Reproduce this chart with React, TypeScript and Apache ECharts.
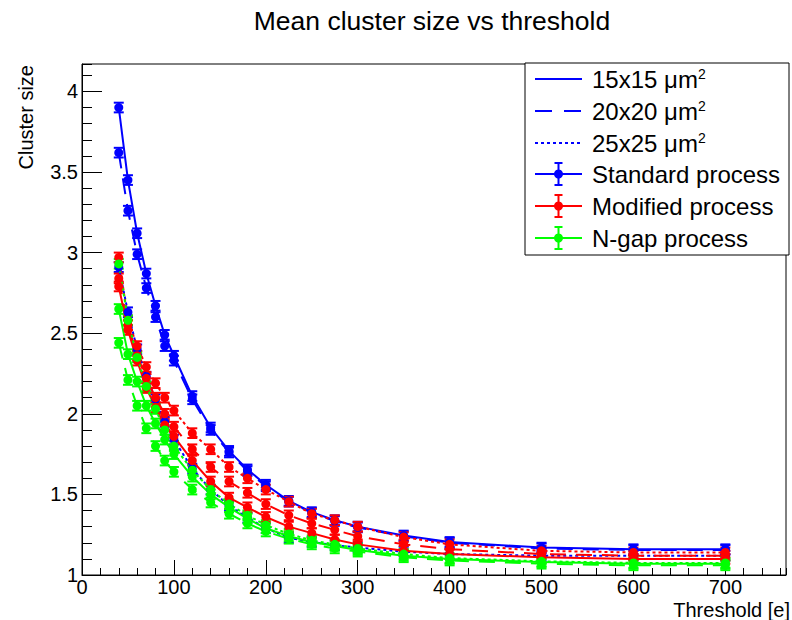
import React, { useEffect, useRef } from "react";
import * as echarts from "echarts";

// Threshold values [e] at which the cluster size was measured
const THRESHOLDS = [40, 50, 60, 70, 80, 90, 100, 120, 140, 160, 180, 200, 225, 250, 275, 300, 350, 400, 500, 600, 700];

// Standard process
const STANDARD_15 = [3.9, 3.45, 3.12, 2.87, 2.67, 2.49, 2.36, 2.11, 1.915, 1.77, 1.655, 1.56, 1.46, 1.39, 1.34, 1.3, 1.245, 1.205, 1.17, 1.16, 1.16];
const STANDARD_20 = [3.62, 3.26, 2.99, 2.78, 2.6, 2.42, 2.33, 2.09, 1.9, 1.76, 1.645, 1.55, 1.455, 1.385, 1.335, 1.295, 1.24, 1.2, 1.165, 1.155, 1.155];
const STANDARD_25 = [2.91, 2.63, 2.4, 2.23, 2.09, 1.95, 1.84, 1.66, 1.53, 1.43, 1.355, 1.29, 1.23, 1.205, 1.185, 1.17, 1.145, 1.13, 1.12, 1.12, 1.12];

// Modified process
const MODIFIED_15 = [2.79, 2.52, 2.33, 2.16, 2.04, 1.93, 1.86, 1.71, 1.58, 1.48, 1.42, 1.36, 1.3, 1.26, 1.22, 1.19, 1.15, 1.13, 1.11, 1.1, 1.1];
const MODIFIED_20 = [2.84, 2.55, 2.36, 2.22, 2.1, 2.0, 1.92, 1.78, 1.67, 1.58, 1.51, 1.44, 1.37, 1.32, 1.28, 1.24, 1.19, 1.16, 1.13, 1.12, 1.12];
const MODIFIED_25 = [2.97, 2.58, 2.42, 2.29, 2.19, 2.1, 2.02, 1.88, 1.78, 1.67, 1.6, 1.53, 1.455, 1.38, 1.34, 1.3, 1.235, 1.19, 1.15, 1.14, 1.14];

// N-gap process
const NGAP_15 = [2.65, 2.37, 2.2, 2.05, 1.94, 1.84, 1.75, 1.61, 1.5, 1.42, 1.35, 1.29, 1.24, 1.205, 1.18, 1.155, 1.12, 1.1, 1.08, 1.07, 1.07];
const NGAP_20 = [2.44, 2.21, 2.05, 1.91, 1.8, 1.71, 1.64, 1.53, 1.45, 1.38, 1.32, 1.27, 1.225, 1.19, 1.165, 1.145, 1.11, 1.09, 1.07, 1.06, 1.06];
const NGAP_25 = [2.93, 2.58, 2.35, 2.17, 2.03, 1.9, 1.8, 1.65, 1.53, 1.44, 1.37, 1.31, 1.255, 1.215, 1.19, 1.165, 1.13, 1.105, 1.085, 1.075, 1.075];

// Statistical uncertainty on each mean
const MEAN_ERROR = 0.03;

const X_TICKS_MAJOR = 100;
const X_TICKS_MINOR = 20;
const Y_TICKS_MAJOR = 0.5;
const Y_TICKS_MINOR = 0.1;

const BLUE = "#0000ff";
const RED = "#ff0000";
const GREEN = "#00ff00";
const FONT = "'Liberation Sans', Arial, Helvetica, sans-serif";

const DASHED = [16, 10];
const DOTTED = [3, 3];

type Curve = { name: string; values: number[]; color: string; dash: "solid" | number[] };

const CURVES: Curve[] = [
  { name: "Standard 15x15", values: STANDARD_15, color: BLUE, dash: "solid" },
  { name: "Standard 20x20", values: STANDARD_20, color: BLUE, dash: DASHED },
  { name: "Standard 25x25", values: STANDARD_25, color: BLUE, dash: DOTTED },
  { name: "Modified 15x15", values: MODIFIED_15, color: RED, dash: "solid" },
  { name: "Modified 20x20", values: MODIFIED_20, color: RED, dash: DASHED },
  { name: "Modified 25x25", values: MODIFIED_25, color: RED, dash: DOTTED },
  { name: "N-gap 15x15", values: NGAP_15, color: GREEN, dash: "solid" },
  { name: "N-gap 20x20", values: NGAP_20, color: GREEN, dash: DASHED },
  { name: "N-gap 25x25", values: NGAP_25, color: GREEN, dash: DOTTED },
];

function lineSeries(c: Curve) {
  return {
    name: c.name,
    type: "line",
    xAxisIndex: 0,
    yAxisIndex: 0,
    data: THRESHOLDS.map((x, i) => [x, c.values[i]]),
    symbol: "circle",
    symbolSize: 9,
    showAllSymbol: true,
    itemStyle: { color: c.color },
    lineStyle: { color: c.color, width: 2, type: c.dash },
    z: 3,
  };
}

function errorSeries(c: Curve) {
  return {
    name: c.name + " errors",
    type: "custom",
    xAxisIndex: 0,
    yAxisIndex: 0,
    data: THRESHOLDS.map((x, i) => [x, c.values[i] - MEAN_ERROR, c.values[i] + MEAN_ERROR]),
    encode: { x: 0, y: [1, 2] },
    renderItem: (_params: any, api: any) => {
      const x = api.value(0);
      const lo = api.coord([x, api.value(1)]);
      const hi = api.coord([x, api.value(2)]);
      const w = 5;
      const style = { stroke: c.color, lineWidth: 2 };
      return {
        type: "group",
        children: [
          { type: "line", shape: { x1: lo[0], y1: lo[1], x2: hi[0], y2: hi[1] }, style },
          { type: "line", shape: { x1: lo[0] - w, y1: lo[1], x2: lo[0] + w, y2: lo[1] }, style },
          { type: "line", shape: { x1: hi[0] - w, y1: hi[1], x2: hi[0] + w, y2: hi[1] }, style },
        ],
      };
    },
    z: 2,
  };
}

// Legend drawn as a framed box in the upper right corner
function legendGraphics() {
  const left = 525;
  const top = 63;
  const width = 264;
  const height = 192;
  const rowH = 32;
  const x1 = 535;
  const x2 = 582;
  const xm = (x1 + x2) / 2;
  const tx = 592;
  const els: any[] = [
    {
      type: "rect",
      shape: { x: left, y: top, width, height },
      style: { fill: "#fff", stroke: "#000", lineWidth: 1 },
      z: 10,
    },
  ];
  const pitchRows: { label: string; dash: any }[] = [
    { label: "15x15 μm{sup|2}", dash: null },
    { label: "20x20 μm{sup|2}", dash: [17, 12] },
    { label: "25x25 μm{sup|2}", dash: DOTTED },
  ];
  pitchRows.forEach((r, i) => {
    const y = top + rowH * i + rowH / 2;
    els.push({
      type: "line",
      shape: { x1, y1: y, x2, y2: y },
      style: { stroke: BLUE, lineWidth: 2, lineDash: r.dash },
      z: 11,
    });
    els.push({
      type: "text",
      x: tx,
      y,
      style: {
        text: r.label,
        fill: "#000",
        fontSize: 24,
        fontFamily: FONT,
        align: "left",
        verticalAlign: "middle",
        rich: { sup: { fontSize: 14, fontFamily: FONT, fill: "#000", verticalAlign: "top" } },
      },
      z: 11,
    });
  });
  const processRows = [
    { label: "Standard process", color: BLUE },
    { label: "Modified process", color: RED },
    { label: "N-gap process", color: GREEN },
  ];
  processRows.forEach((r, i) => {
    const y = top + rowH * (i + 3) + rowH / 2 - 1;
    const st = { stroke: r.color, lineWidth: 2 };
    els.push({ type: "line", shape: { x1, y1: y, x2, y2: y }, style: st, z: 11 });
    els.push({ type: "line", shape: { x1: xm, y1: y - 11, x2: xm, y2: y + 11 }, style: st, z: 11 });
    els.push({ type: "line", shape: { x1: xm - 4, y1: y - 11, x2: xm + 4, y2: y - 11 }, style: st, z: 11 });
    els.push({ type: "line", shape: { x1: xm - 4, y1: y + 11, x2: xm + 4, y2: y + 11 }, style: st, z: 11 });
    els.push({ type: "circle", shape: { cx: xm, cy: y, r: 4.5 }, style: { fill: r.color }, z: 12 });
    els.push({
      type: "text",
      x: tx,
      y,
      style: {
        text: r.label,
        fill: "#000",
        fontSize: 24,
        fontFamily: FONT,
        align: "left",
        verticalAlign: "middle",
      },
      z: 11,
    });
  });
  return els;
}

export default function App() {
  const ref = useRef<HTMLDivElement>(null);

  useEffect(() => {
    if (!ref.current) return;
    const chart = echarts.init(ref.current, undefined, { renderer: "svg" });

    const axisText = { color: "#000", fontSize: 20, fontFamily: FONT };

    chart.setOption({
      animation: false,
      backgroundColor: "#fff",
      grid: {
        left: 82,
        right: 6,
        top: 64,
        bottom: 45,
        show: true,
        borderColor: "#000",
        borderWidth: 1,
        backgroundColor: "#fff",
      },
      xAxis: [
        {
          type: "value",
          position: "bottom",
          min: 0,
          max: 766,
          interval: X_TICKS_MAJOR,
          axisLine: { show: true, lineStyle: { color: "#000", width: 1 } },
          axisTick: { show: true, inside: true, length: 15, lineStyle: { color: "#000", width: 1 } },
          axisLabel: { ...axisText, margin: 4, lineHeight: 16, showMaxLabel: false },
          splitLine: { show: false },
        },
        {
          type: "value",
          position: "bottom",
          min: 0,
          max: 766,
          interval: X_TICKS_MINOR,
          axisLine: { show: false },
          axisTick: { show: true, inside: true, length: 7, lineStyle: { color: "#000", width: 1 } },
          axisLabel: { show: false },
          splitLine: { show: false },
        },
      ],
      yAxis: [
        {
          type: "value",
          position: "left",
          min: 1,
          max: 4.17,
          interval: Y_TICKS_MAJOR,
          axisLine: { show: true, lineStyle: { color: "#000", width: 1 } },
          axisTick: { show: true, inside: true, length: 20, lineStyle: { color: "#000", width: 1 } },
          axisLabel: { ...axisText, margin: 4, showMaxLabel: false },
          splitLine: { show: false },
        },
        {
          type: "value",
          position: "left",
          min: 1,
          max: 4.17,
          interval: Y_TICKS_MINOR,
          axisLine: { show: false },
          axisTick: { show: true, inside: true, length: 10, lineStyle: { color: "#000", width: 1 } },
          axisLabel: { show: false },
          splitLine: { show: false },
        },
      ],
      series: [...CURVES.map(errorSeries), ...CURVES.map(lineSeries)],
      graphic: [
        {
          type: "text",
          x: 432,
          y: 21,
          style: {
            text: "Mean cluster size vs threshold",
            fill: "#000",
            fontSize: 26.5,
            fontFamily: FONT,
            align: "center",
            verticalAlign: "middle",
          },
        },
        {
          type: "text",
          x: 790,
          y: 610,
          style: {
            text: "Threshold [e]",
            fill: "#000",
            fontSize: 20,
            lineHeight: 16,
            fontFamily: FONT,
            align: "right",
            verticalAlign: "middle",
          },
        },
        {
          type: "text",
          x: 26,
          y: 65,
          rotation: Math.PI / 2,
          style: {
            text: "Cluster size",
            fill: "#000",
            fontSize: 20,
            fontFamily: FONT,
            align: "right",
            verticalAlign: "middle",
          },
        },
        ...legendGraphics(),
      ],
    });

    return () => chart.dispose();
  }, []);

  return (
    <div
      ref={ref}
      style={{ position: "absolute", left: 0, top: 0, width: 792, height: 620, background: "#fff" }}
    />
  );
}
